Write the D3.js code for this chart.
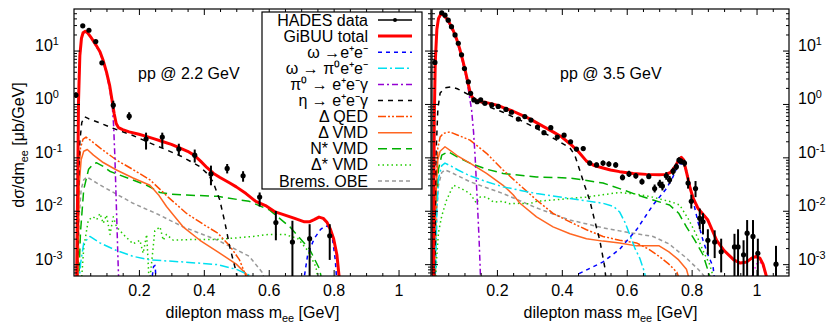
<!DOCTYPE html>
<html>
<head>
<meta charset="utf-8">
<script src="https://cdn.jsdelivr.net/npm/d3@7"></script>
<style>
  body { margin: 0; background: #fff; }
  svg { display: block; }
  text { font-family: 'Liberation Sans', Arial, Helvetica, sans-serif; fill: #000; }
</style>
</head>
<body>
<div id="chart"></div>
<script>
// ---------- pp @ 2.2 GeV ----------
// [mass, value, errLow, errHigh]
const hades22 = [
  [0.006, 1.47, 1.3, 1.65], [0.027, 29, 27, 31], [0.046, 24, 22.5, 25.5], [0.067, 14.7, 13.8, 15.6],
  [0.086, 5.9, 5.5, 6.3], [0.121, 0.95, 0.8, 1.15], [0.170, 0.59, 0.5, 0.7], [0.222, 0.22, 0.14, 0.29],
  [0.272, 0.24, 0.15, 0.29], [0.323, 0.143, 0.11, 0.18], [0.372, 0.11, 0.08, 0.14], [0.422, 0.049, 0.03, 0.07],
  [0.472, 0.062, 0.05, 0.075], [0.521, 0.045, 0.035, 0.055], [0.572, 0.018, 0.012, 0.022],
  [0.622, 0.006, 0.0028, 0.0099], [0.673, 0.0026, 0.0001, 0.0065], [0.726, 0.003, 0.0001, 0.0056],
  [0.788, 0.0034, 0.0012, 0.0056]
];
const total22 = [
  [0.008, 4e-4], [0.011, 0.02], [0.014, 1.2], [0.018, 8], [0.023, 17], [0.028, 21.5], [0.035, 23],
  [0.042, 21.5], [0.05, 18.5], [0.06, 15], [0.07, 12], [0.08, 9.5], [0.09, 6.5], [0.10, 4.0], [0.11, 2.2],
  [0.118, 1.1], [0.124, 0.65], [0.13, 0.43], [0.137, 0.36], [0.15, 0.33], [0.17, 0.30], [0.2, 0.27],
  [0.22, 0.25], [0.25, 0.22], [0.27, 0.20], [0.30, 0.175], [0.32, 0.155], [0.35, 0.13], [0.37, 0.11],
  [0.39, 0.085], [0.41, 0.064], [0.43, 0.05], [0.45, 0.042], [0.48, 0.033], [0.50, 0.028], [0.53, 0.021],
  [0.56, 0.015], [0.59, 0.0125], [0.62, 0.0095], [0.65, 0.0083], [0.68, 0.0072], [0.71, 0.0062],
  [0.725, 0.0062], [0.74, 0.0068], [0.755, 0.0076], [0.768, 0.0072], [0.78, 0.006], [0.79, 0.0045],
  [0.80, 0.003], [0.81, 0.0015], [0.818, 5e-4], [0.822, 3e-4]
];
const omegaEE22 = [
  [0.235, 3e-4], [0.245, 9e-4], [0.25, 9.5e-4], [0.255, 3e-4], [0.70, 3e-4], [0.71, 6e-4], [0.72, 0.0015],
  [0.74, 0.003], [0.76, 0.0045], [0.775, 0.0052], [0.785, 0.005], [0.795, 0.0035], [0.805, 0.0012], [0.812, 3e-4]
];
const omegaDalitz22 = [
  [0.015, 4e-4], [0.02, 0.001], [0.03, 0.0025], [0.049, 0.0033], [0.08, 0.0025], [0.131, 0.0018],
  [0.182, 0.0014], [0.234, 0.0012], [0.336, 0.0011], [0.443, 0.00098], [0.5, 8e-4], [0.552, 5.8e-4], [0.56, 4e-4]
];
const pi0Dalitz22 = [
  [0.008, 4e-4], [0.011, 0.02], [0.014, 1.1], [0.018, 7.5], [0.023, 16.5], [0.028, 21], [0.035, 22.5],
  [0.042, 21], [0.05, 18], [0.06, 14.5], [0.07, 11.5], [0.08, 9], [0.09, 6.2], [0.10, 3.7], [0.11, 1.9],
  [0.118, 0.9], [0.122, 0.4], [0.126, 0.1], [0.131, 0.01], [0.136, 0.001], [0.139, 3e-4]
];
const etaDalitz22 = [
  [0.010, 4e-4], [0.014, 0.03], [0.018, 0.2], [0.024, 0.45], [0.032, 0.58], [0.045, 0.53], [0.06, 0.49],
  [0.08, 0.44], [0.12, 0.35], [0.18, 0.26], [0.23, 0.19], [0.285, 0.138], [0.33, 0.105], [0.388, 0.067],
  [0.41, 0.05], [0.428, 0.035], [0.449, 0.016], [0.465, 0.006], [0.48, 0.0021], [0.50, 7e-4], [0.51, 3e-4]
];
const deltaQED22 = [
  [0.011, 4e-4], [0.015, 0.05], [0.02, 0.15], [0.028, 0.22], [0.037, 0.24], [0.05, 0.21], [0.08, 0.15],
  [0.131, 0.089], [0.18, 0.06], [0.234, 0.038], [0.29, 0.018], [0.347, 0.0089], [0.40, 0.0055],
  [0.443, 0.0038], [0.48, 0.0022], [0.51, 0.0012], [0.535, 5e-4], [0.545, 3e-4]
];
const deltaVMD22 = [
  [0.012, 4e-4], [0.016, 0.03], [0.022, 0.09], [0.03, 0.13], [0.041, 0.14], [0.06, 0.11], [0.09, 0.08],
  [0.131, 0.058], [0.182, 0.041], [0.234, 0.03], [0.26, 0.02], [0.285, 0.012], [0.31, 0.0078],
  [0.336, 0.005], [0.388, 0.0028], [0.443, 0.0017], [0.5, 0.001], [0.55, 5e-4], [0.56, 3e-4]
];
const nstarVMD22 = [
  [0.014, 4e-4], [0.02, 0.004], [0.03, 0.025], [0.045, 0.06], [0.06, 0.076], [0.07, 0.079], [0.09, 0.068],
  [0.11, 0.055], [0.131, 0.049], [0.18, 0.038], [0.224, 0.03], [0.265, 0.022], [0.3, 0.0205],
  [0.347, 0.0197], [0.443, 0.0186], [0.54, 0.015], [0.603, 0.0103], [0.665, 0.005], [0.726, 0.0019],
  [0.757, 8e-4], [0.77, 3e-4]
];
const dstarVMD22 = [
  [0.022, 4e-4], [0.03, 0.002], [0.044, 0.0067], [0.059, 0.0077], [0.07, 0.0068], [0.08, 0.0089],
  [0.09, 0.0058], [0.1, 0.0083], [0.111, 0.0036], [0.121, 0.0077], [0.131, 0.005], [0.152, 0.0036],
  [0.182, 0.0024], [0.203, 0.0028], [0.213, 0.0016], [0.224, 0.0036], [0.232, 4e-4], [0.24, 0.0012],
  [0.249, 0.0042], [0.265, 0.005], [0.275, 0.0028], [0.285, 0.0036], [0.306, 0.0028], [0.36, 0.0029],
  [0.44, 0.0029], [0.5, 0.0031], [0.55, 0.0033], [0.60, 0.0036], [0.65, 0.0036], [0.69, 0.003],
  [0.72, 0.0018], [0.745, 9e-4], [0.76, 3e-4]
];
const brems22 = [
  [0.012, 4e-4], [0.016, 0.008], [0.022, 0.025], [0.03, 0.038], [0.04, 0.043], [0.06, 0.036], [0.1, 0.026],
  [0.182, 0.0138], [0.26, 0.0085], [0.336, 0.005], [0.443, 0.0028], [0.54, 0.0014], [0.58, 7e-4], [0.6, 3e-4]
];

// ---------- pp @ 3.5 GeV ----------
const hades35 = [
  [0.009, 6.0, 5.5, 6.5], [0.03, 51, 47, 55], [0.04, 46, 43, 49], [0.05, 37, 34.5, 39.5], [0.06, 28, 26, 30],
  [0.071, 19.6, 18.2, 21], [0.081, 13.7, 12.7, 14.7], [0.091, 8.3, 7.7, 8.9], [0.1, 4.6, 4.25, 4.95],
  [0.112, 2.6, 2.4, 2.8], [0.119, 1.58, 1.46, 1.7], [0.129, 1.19, 1.1, 1.28], [0.139, 1.1, 1.02, 1.18],
  [0.15, 1.19, 1.1, 1.28], [0.163, 1.03, 0.95, 1.11], [0.184, 0.96, 0.89, 1.03], [0.204, 0.9, 0.83, 0.97],
  [0.228, 0.79, 0.73, 0.85], [0.245, 0.70, 0.65, 0.75], [0.266, 0.52, 0.48, 0.56], [0.286, 0.58, 0.54, 0.62],
  [0.305, 0.5, 0.46, 0.54], [0.325, 0.37, 0.34, 0.4], [0.345, 0.29, 0.27, 0.31], [0.366, 0.36, 0.33, 0.39],
  [0.386, 0.24, 0.22, 0.26], [0.407, 0.26, 0.24, 0.28], [0.427, 0.196, 0.18, 0.212], [0.445, 0.143, 0.13, 0.156],
  [0.466, 0.146, 0.133, 0.16], [0.486, 0.078, 0.07, 0.087], [0.507, 0.072, 0.065, 0.08], [0.527, 0.078, 0.07, 0.087],
  [0.545, 0.075, 0.067, 0.084], [0.566, 0.072, 0.064, 0.081], [0.587, 0.042, 0.037, 0.048],
  [0.607, 0.049, 0.043, 0.056], [0.628, 0.045, 0.04, 0.051], [0.647, 0.035, 0.031, 0.04],
  [0.668, 0.044, 0.039, 0.05], [0.686, 0.026, 0.022, 0.031], [0.702, 0.032, 0.027, 0.038],
  [0.71, 0.029, 0.024, 0.035], [0.722, 0.045, 0.038, 0.053], [0.732, 0.038, 0.032, 0.045],
  [0.743, 0.055, 0.047, 0.064], [0.753, 0.067, 0.058, 0.077], [0.761, 0.089, 0.078, 0.1],
  [0.768, 0.084, 0.074, 0.095], [0.778, 0.078, 0.067, 0.09], [0.789, 0.033, 0.026, 0.042],
  [0.799, 0.015, 0.011, 0.02], [0.812, 0.026, 0.018, 0.036], [0.825, 0.0072, 0.0045, 0.011],
  [0.835, 0.0062, 0.0036, 0.009], [0.85, 0.0028, 0.0015, 0.0045], [0.871, 0.0026, 0.0013, 0.0043],
  [0.891, 0.0017, 0.0007, 0.003], [0.932, 0.0021, 0.0002, 0.0037], [0.943, 0.0021, 0.0002, 0.0045],
  [0.96, 0.0015, 0.0002, 0.0028], [0.971, 0.0038, 0.0002, 0.0067], [0.989, 0.0033, 0.0002, 0.0067],
  [1.004, 0.0016, 0.0002, 0.003], [1.06, 0.001, 0.0002, 0.0022]
];
const total35 = [
  [0.004, 4e-4], [0.007, 0.5], [0.01, 6], [0.015, 25], [0.02, 40], [0.027, 48], [0.035, 47], [0.045, 40],
  [0.055, 32], [0.065, 24], [0.075, 17], [0.085, 11], [0.095, 6.5], [0.105, 3.6], [0.112, 2.3], [0.117, 1.7],
  [0.122, 1.4], [0.127, 1.26], [0.135, 1.16], [0.15, 1.1], [0.168, 1.06], [0.2, 0.95], [0.22, 0.85],
  [0.25, 0.73], [0.271, 0.64], [0.3, 0.53], [0.33, 0.42], [0.373, 0.30], [0.4, 0.24], [0.425, 0.18],
  [0.45, 0.13], [0.476, 0.085], [0.5, 0.07], [0.527, 0.063], [0.55, 0.058], [0.578, 0.054], [0.62, 0.05],
  [0.66, 0.048], [0.70, 0.047], [0.72, 0.048], [0.735, 0.052], [0.75, 0.068], [0.76, 0.09], [0.768, 0.1],
  [0.775, 0.09], [0.785, 0.05], [0.795, 0.027], [0.805, 0.017], [0.82, 0.011], [0.85, 0.0067],
  [0.877, 0.0028], [0.9, 0.0018], [0.93, 0.0012], [0.95, 0.00105], [0.97, 0.0011], [0.985, 0.0013],
  [0.999, 0.0014], [1.01, 0.0013], [1.02, 0.001], [1.03, 6e-4], [1.04, 3e-4]
];
const omegaEE35 = [
  [0.42, 4e-4], [0.45, 6.5e-4], [0.48, 8e-4], [0.527, 0.0011], [0.578, 0.0019], [0.63, 0.0044],
  [0.681, 0.0128], [0.72, 0.025], [0.74, 0.04], [0.755, 0.065], [0.763, 0.078], [0.77, 0.075],
  [0.784, 0.058], [0.795, 0.03], [0.804, 0.0159], [0.82, 0.006], [0.835, 0.0028], [0.85, 0.0015],
  [0.866, 9e-4], [0.875, 3e-4]
];
const omegaDalitz35 = [
  [0.01, 4e-4], [0.015, 0.01], [0.02, 0.04], [0.03, 0.07], [0.04, 0.078], [0.06, 0.068], [0.08, 0.058],
  [0.117, 0.045], [0.168, 0.035], [0.219, 0.028], [0.322, 0.021], [0.425, 0.017], [0.527, 0.0138],
  [0.56, 0.012], [0.578, 0.0095], [0.595, 0.006], [0.609, 0.0036], [0.625, 0.002], [0.64, 0.0013],
  [0.655, 7e-4], [0.665, 3e-4]
];
const pi0Dalitz35 = [
  [0.004, 4e-4], [0.007, 0.45], [0.01, 5.5], [0.015, 23], [0.02, 38], [0.027, 46], [0.035, 45], [0.045, 38],
  [0.055, 30], [0.065, 22], [0.075, 15.5], [0.085, 10], [0.095, 5.8], [0.105, 3.2], [0.113, 1.7],
  [0.122, 0.77], [0.128, 0.3], [0.133, 0.1], [0.14, 0.0133], [0.145, 0.003], [0.148, 0.001], [0.151, 3e-4]
];
const etaDalitz35 = [
  [0.008, 4e-4], [0.012, 0.1], [0.018, 0.8], [0.025, 1.6], [0.04, 2.0], [0.06, 2.1], [0.08, 1.9],
  [0.117, 1.45], [0.168, 0.92], [0.219, 0.7], [0.271, 0.5], [0.322, 0.35], [0.373, 0.23], [0.425, 0.15],
  [0.44, 0.11], [0.455, 0.058], [0.47, 0.03], [0.486, 0.0158], [0.5, 0.007], [0.517, 0.0028],
  [0.532, 9e-4], [0.54, 3e-4]
];
const deltaQED35 = [
  [0.008, 4e-4], [0.012, 0.03], [0.018, 0.15], [0.025, 0.24], [0.035, 0.28], [0.055, 0.30], [0.08, 0.26],
  [0.117, 0.21], [0.168, 0.119], [0.219, 0.058], [0.271, 0.03], [0.322, 0.0159], [0.373, 0.0089],
  [0.425, 0.0062], [0.476, 0.0044], [0.527, 0.0033], [0.578, 0.0028], [0.63, 0.0025], [0.668, 0.0019],
  [0.70, 0.0014], [0.73, 0.001], [0.755, 7e-4], [0.775, 3e-4]
];
const deltaVMD35 = [
  [0.008, 4e-4], [0.012, 0.02], [0.018, 0.09], [0.025, 0.13], [0.04, 0.158], [0.06, 0.13], [0.08, 0.105],
  [0.117, 0.078], [0.168, 0.05], [0.219, 0.03], [0.25, 0.02], [0.271, 0.0138], [0.322, 0.0077],
  [0.373, 0.005], [0.425, 0.0037], [0.476, 0.003], [0.527, 0.0027], [0.578, 0.0025], [0.63, 0.0022],
  [0.70, 0.0022], [0.73, 0.0017], [0.76, 0.0012], [0.784, 8e-4], [0.804, 3e-4]
];
const nstarVMD35 = [
  [0.008, 4e-4], [0.012, 0.01], [0.02, 0.06], [0.03, 0.11], [0.05, 0.128], [0.08, 0.1], [0.117, 0.078],
  [0.168, 0.06], [0.219, 0.05], [0.322, 0.043], [0.425, 0.041], [0.527, 0.033], [0.578, 0.026],
  [0.63, 0.02], [0.681, 0.0159], [0.732, 0.0128], [0.76, 0.009], [0.784, 0.005], [0.81, 0.0028],
  [0.835, 0.0015], [0.86, 5e-4], [0.866, 3e-4]
];
const dstarVMD35 = [
  [0.01, 4e-4], [0.015, 0.0015], [0.02, 0.0039], [0.03, 0.008], [0.045, 0.0159], [0.066, 0.03],
  [0.09, 0.026], [0.117, 0.021], [0.137, 0.0138], [0.148, 0.018], [0.168, 0.018], [0.19, 0.0145],
  [0.219, 0.015], [0.24, 0.0135], [0.271, 0.0138], [0.3, 0.0135], [0.322, 0.015], [0.373, 0.0159],
  [0.425, 0.017], [0.476, 0.018], [0.527, 0.02], [0.578, 0.022], [0.63, 0.0205], [0.68, 0.018],
  [0.712, 0.016], [0.74, 0.0145], [0.763, 0.0128], [0.79, 0.007], [0.814, 0.0036], [0.835, 0.0018],
  [0.855, 0.001], [0.87, 5e-4], [0.876, 3e-4]
];
const brems35 = [
  [0.01, 4e-4], [0.015, 0.01], [0.02, 0.03], [0.03, 0.052], [0.04, 0.058], [0.06, 0.052], [0.08, 0.045],
  [0.117, 0.035], [0.168, 0.027], [0.219, 0.021], [0.27, 0.0155], [0.322, 0.0113], [0.425, 0.0067],
  [0.527, 0.0048], [0.578, 0.0042], [0.63, 0.0037], [0.681, 0.0033], [0.73, 0.0024], [0.784, 0.0013],
  [0.82, 8e-4], [0.85, 5e-4], [0.866, 3e-4]
];
const phi35 = [
  [0.975, 4e-4], [0.99, 7e-4], [1.0, 0.001], [1.01, 0.0011], [1.02, 0.0009], [1.03, 6e-4], [1.036, 3e-4]
];

// axis ticks
const xMajorTicks = [0.2, 0.4, 0.6, 0.8, 1];
const xMinorTicks = [0.05, 0.1, 0.15, 0.25, 0.3, 0.35, 0.45, 0.5, 0.55, 0.65, 0.7, 0.75, 0.85, 0.9, 0.95, 1.05];
const yMajorTicks = [1e-3, 1e-2, 1e-1, 1, 10];
const yMinorTicks = [7e-4, 8e-4, 9e-4]
  .concat(...[1e-3, 1e-2, 1e-1, 1].map(b => [2, 3, 4, 5, 6, 7, 8, 9].map(k => k * b)))
  .concat([20, 30, 40, 50]);

// legend
const legendItems = [
  { key: 'data',        label: 'HADES data' },
  { key: 'total',       label: 'GiBUU total' },
  { key: 'omegaEE',     label: 'ω →e⁺e⁻' },
  { key: 'omegaDalitz', label: 'ω → π⁰e⁺e⁻' },
  { key: 'pi0Dalitz',   label: 'π⁰ → e⁺e⁻γ' },
  { key: 'etaDalitz',   label: 'η → e⁺e⁻γ' },
  { key: 'deltaQED',    label: 'Δ QED' },
  { key: 'deltaVMD',    label: 'Δ VMD' },
  { key: 'nstarVMD',    label: 'N* VMD' },
  { key: 'dstarVMD',    label: 'Δ* VMD' },
  { key: 'brems',       label: 'Brems. OBE' }
];

const styles = {
  total:       { color: '#ff0000', width: 3,   dash: null },
  omegaEE:     { color: '#0000ff', width: 1.5, dash: '4,4' },
  omegaDalitz: { color: '#00e0f0', width: 1.5, dash: '9,3,2,3' },
  pi0Dalitz:   { color: '#9400d3', width: 1.5, dash: '6,3,2,3' },
  etaDalitz:   { color: '#000000', width: 1.5, dash: '5,5' },
  deltaQED:    { color: '#ff4d00', width: 1.5, dash: '8,2,2,2,2,2' },
  deltaVMD:    { color: '#ff6622', width: 1.5, dash: null },
  nstarVMD:    { color: '#00b000', width: 1.5, dash: '9,5' },
  dstarVMD:    { color: '#22cc00', width: 1.5, dash: '1.5,3' },
  brems:       { color: '#999999', width: 1.5, dash: '4,3' },
  phi:         { color: '#ff00ff', width: 1.5, dash: '1.5,3' }
};

const W = 828, H = 324;
const yTop = 9, yBot = 276;
const fontSize = 16;

const panels = [
  { id: 'p22', x0: 74, x1: 431, title: 'pp @ 2.2 GeV', titleX: 138, labelSide: 'left',
    data: hades22,
    curves: { brems: brems22, dstarVMD: dstarVMD22, nstarVMD: nstarVMD22, deltaVMD: deltaVMD22,
      deltaQED: deltaQED22, omegaDalitz: omegaDalitz22, etaDalitz: etaDalitz22, pi0Dalitz: pi0Dalitz22,
      omegaEE: omegaEE22, total: total22 } },
  { id: 'p35', x0: 432, x1: 789, title: 'pp @ 3.5 GeV', titleX: 560, labelSide: 'right',
    data: hades35,
    curves: { brems: brems35, dstarVMD: dstarVMD35, nstarVMD: nstarVMD35, deltaVMD: deltaVMD35,
      deltaQED: deltaQED35, omegaDalitz: omegaDalitz35, etaDalitz: etaDalitz35, pi0Dalitz: pi0Dalitz35,
      omegaEE: omegaEE35, phi: phi35, total: total35 } }
];

const svg = d3.select('#chart').append('svg')
  .attr('width', W).attr('height', H);

const y = d3.scaleLog().domain([6e-4, 60]).range([yBot, yTop]);

function addScript(sel, parts, size, raise = 6) {
  // parts: [text, 'sup' | 'sub' | undefined]
  let shift = 0;
  parts.forEach(([t, kind]) => {
    const target = kind === 'sup' ? -raise : kind === 'sub' ? 4 : 0;
    sel.append('tspan')
      .attr('dy', target - shift)
      .attr('font-size', kind ? size * 0.68 : size)
      .text(t);
    shift = target;
  });
}

function styleAxis(g) {
  g.select('.domain').remove();
  g.selectAll('.tick line').attr('stroke', '#000').attr('stroke-width', 1);
}

panels.forEach(p => {
  const x = d3.scaleLinear().domain([0, 1.1]).range([p.x0, p.x1]);
  const g = svg.append('g').attr('id', p.id);

  g.append('clipPath').attr('id', 'clip-' + p.id)
    .append('rect')
    .attr('x', p.x0).attr('y', yTop)
    .attr('width', p.x1 - p.x0).attr('height', yBot - yTop);

  const plot = g.append('g').attr('clip-path', `url(#clip-${p.id})`);

  const line = d3.line()
    .x(d => x(d[0]))
    .y(d => y(d[1]));

  Object.entries(p.curves).forEach(([key, pts]) => {
    const s = styles[key];
    plot.append('path')
      .datum(pts)
      .attr('fill', 'none')
      .attr('stroke', s.color)
      .attr('stroke-width', s.width)
      .attr('stroke-dasharray', s.dash)
      .attr('stroke-linejoin', 'round')
      .attr('d', line);
  });

  // data with error bars
  const pts = plot.append('g').selectAll('g').data(p.data).join('g');
  pts.append('line')
    .attr('x1', d => x(d[0])).attr('x2', d => x(d[0]))
    .attr('y1', d => y(d[2])).attr('y2', d => y(d[3]))
    .attr('stroke', '#000').attr('stroke-width', 2);
  pts.append('circle')
    .attr('cx', d => x(d[0])).attr('cy', d => y(d[1]))
    .attr('r', 2.6).attr('fill', '#000');

  // axes (ticks point inward)
  const bottomMajor = g.append('g').attr('transform', `translate(0,${yBot})`)
    .call(d3.axisBottom(x).tickValues(xMajorTicks).tickSize(-6).tickPadding(9)
      .tickFormat(d3.format('')));
  styleAxis(bottomMajor);
  bottomMajor.selectAll('.tick text').attr('font-size', fontSize)
    .attr('font-family', "'Liberation Sans', Arial, sans-serif");
  styleAxis(g.append('g').attr('transform', `translate(0,${yBot})`)
    .call(d3.axisBottom(x).tickValues(xMinorTicks).tickSize(-3).tickFormat('')));
  styleAxis(g.append('g').attr('transform', `translate(0,${yTop})`)
    .call(d3.axisTop(x).tickValues(xMajorTicks).tickSize(-6).tickFormat('')));
  styleAxis(g.append('g').attr('transform', `translate(0,${yTop})`)
    .call(d3.axisTop(x).tickValues(xMinorTicks).tickSize(-3).tickFormat('')));

  [['left', p.x0], ['right', p.x1]].forEach(([side, xpos]) => {
    const axisFn = side === 'left' ? d3.axisLeft : d3.axisRight;
    const major = g.append('g').attr('transform', `translate(${xpos},0)`)
      .call(axisFn(y).tickValues(yMajorTicks).tickSize(-6).tickFormat(''));
    styleAxis(major);
    styleAxis(g.append('g').attr('transform', `translate(${xpos},0)`)
      .call(axisFn(y).tickValues(yMinorTicks).tickSize(-3).tickFormat('')));

    if (side === p.labelSide) {
      const lx = side === 'left' ? 35 - xpos : 798 - xpos;
      major.selectAll('.tick text').each(function (d) {
        const t = d3.select(this)
          .attr('x', lx).attr('dy', '0.36em')
          .attr('text-anchor', 'start')
          .attr('font-size', fontSize)
          .attr('font-family', "'Liberation Sans', Arial, sans-serif");
        t.text(null);
        addScript(t, [['10'], [String(Math.round(Math.log10(d))), 'sup']], fontSize);
      });
    }
  });

  g.append('rect')
    .attr('x', p.x0).attr('y', yTop)
    .attr('width', p.x1 - p.x0).attr('height', yBot - yTop)
    .attr('fill', 'none').attr('stroke', '#000').attr('stroke-width', 1.2);

  g.append('text').attr('x', p.titleX).attr('y', 79)
    .attr('font-size', fontSize).text(p.title);

  const xl = g.append('text')
    .attr('x', (p.x0 + p.x1) / 2).attr('y', 318)
    .attr('text-anchor', 'middle').attr('font-size', fontSize);
  addScript(xl, [['dilepton mass m'], ['ee', 'sub'], [' [GeV]']], fontSize);
});

// y axis title
const yl = svg.append('text')
  .attr('transform', 'translate(24,145) rotate(-90)')
  .attr('text-anchor', 'middle').attr('font-size', fontSize);
addScript(yl, [['dσ/dm'], ['ee', 'sub'], [' [μb/GeV]']], fontSize);

// legend
const lg = svg.append('g');
lg.append('rect')
  .attr('x', 262).attr('y', 12).attr('width', 160).attr('height', 177)
  .attr('fill', '#fff').attr('stroke', '#000').attr('stroke-width', 1.2);

const rowY = d3.scalePoint().domain(legendItems.map(d => d.key)).range([20, 181]);
legendItems.forEach(item => {
  const yy = rowY(item.key);
  lg.append('text')
    .attr('x', 368).attr('y', yy + 5.5)
    .attr('text-anchor', 'end').attr('font-size', fontSize)
    .text(item.label);
  if (item.key === 'data') {
    lg.append('line').attr('x1', 378).attr('x2', 412).attr('y1', yy).attr('y2', yy)
      .attr('stroke', '#000').attr('stroke-width', 1.5);
    lg.append('circle').attr('cx', 395).attr('cy', yy).attr('r', 2).attr('fill', '#000');
  } else {
    const s = styles[item.key];
    lg.append('line').attr('x1', 378).attr('x2', 412).attr('y1', yy).attr('y2', yy)
      .attr('stroke', s.color).attr('stroke-width', s.width)
      .attr('stroke-dasharray', s.dash);
  }
});
</script>
</body>
</html>
